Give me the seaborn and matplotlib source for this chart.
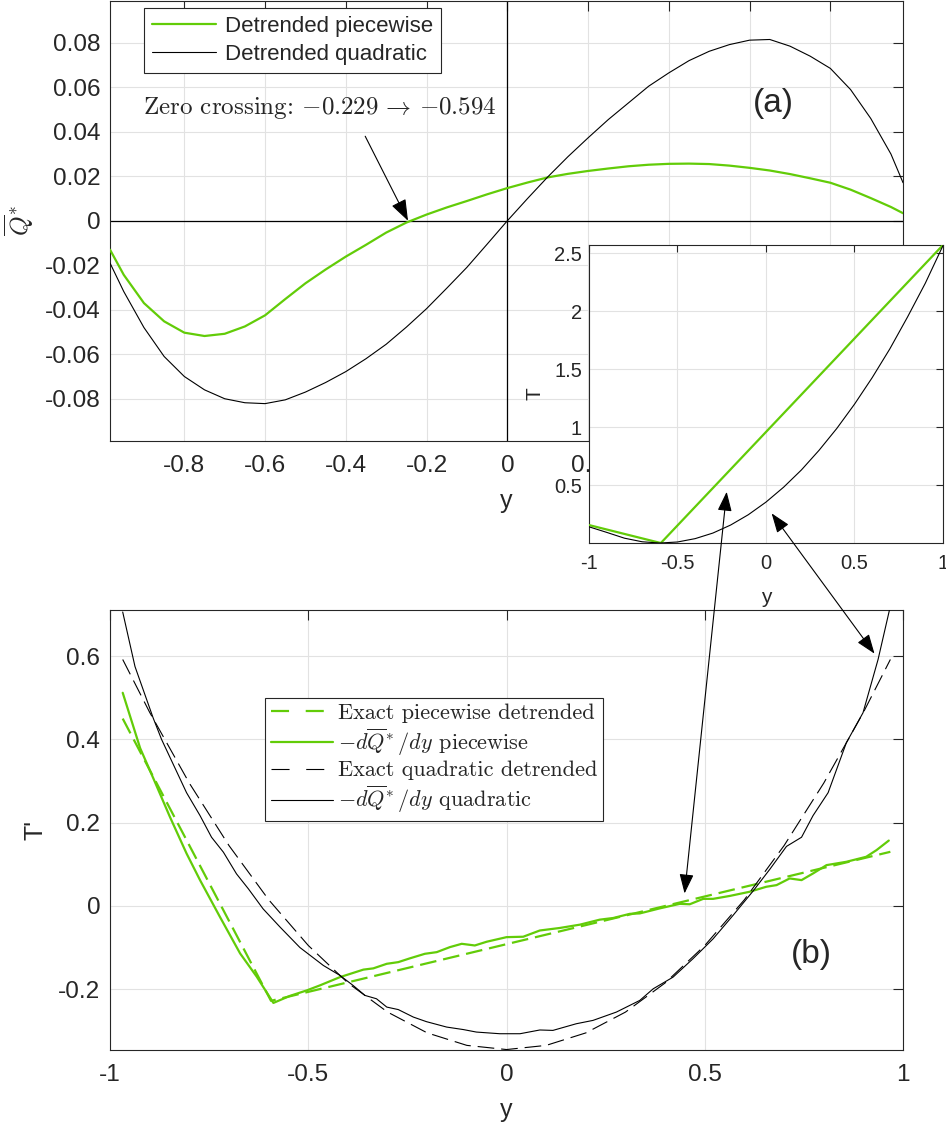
import matplotlib
matplotlib.use("Agg")
import matplotlib.pyplot as plt
import seaborn as sns
from matplotlib.lines import Line2D
from matplotlib.patches import ConnectionPatch, ArrowStyle
from matplotlib.ticker import FuncFormatter

# ---- panel (a): detrended Q* ----
qa_y = [-0.984, -0.95, -0.90, -0.85, -0.80, -0.75, -0.70, -0.65, -0.60, -0.55,
        -0.50, -0.45, -0.40, -0.35, -0.30, -0.25, -0.20, -0.15, -0.10, -0.05,
        0.00, 0.05, 0.10, 0.15, 0.20, 0.25, 0.30, 0.35, 0.40, 0.45,
        0.50, 0.55, 0.60, 0.65, 0.70, 0.75, 0.80, 0.85, 0.90, 0.95, 0.98]
q_piecewise = [-0.0130, -0.0243, -0.0370, -0.0452, -0.0503, -0.0518, -0.0508, -0.0475, -0.0425, -0.0352,
               -0.0281, -0.0219, -0.0161, -0.0108, -0.0053, -0.0008, 0.0028, 0.0060, 0.0089, 0.0119,
               0.0147, 0.0172, 0.0195, 0.0211, 0.0224, 0.0235, 0.0245, 0.0252, 0.0256, 0.0257,
               0.0255, 0.0248, 0.0238, 0.0226, 0.0210, 0.0191, 0.0171, 0.0140, 0.0102, 0.0062, 0.0034]
q_quadratic = [-0.0190, -0.0318, -0.0480, -0.0610, -0.0700, -0.0760, -0.0800, -0.0818, -0.0822, -0.0805,
               -0.0770, -0.0727, -0.0678, -0.0620, -0.0555, -0.0478, -0.0395, -0.0303, -0.0209, -0.0105,
               0.0000, 0.0100, 0.0197, 0.0288, 0.0373, 0.0455, 0.0530, 0.0605, 0.0665, 0.0720,
               0.0762, 0.0792, 0.0812, 0.0815, 0.0785, 0.0740, 0.0685, 0.0590, 0.0460, 0.0300, 0.0171]

# ---- inset: T profiles ----
t_pw_y = [-1.0, -0.594, 1.0]
t_piecewise = [0.155, 0.0, 2.57]
t_quad_y = [-1.0, -0.9, -0.8, -0.7, -0.6, -0.5, -0.4, -0.3, -0.2, -0.1, 0.0,
            0.1, 0.2, 0.3, 0.4, 0.5, 0.6, 0.7, 0.8, 0.9, 1.0]
t_quadratic = [0.140, 0.092, 0.042, 0.011, 0.000, 0.009, 0.038, 0.086, 0.155, 0.244, 0.353,
               0.482, 0.630, 0.800, 0.988, 1.197, 1.426, 1.675, 1.950, 2.240, 2.565]

# ---- panel (b): T' ----
exact_pw_y = [-0.968, -0.594, 0.968]
exact_pw = [0.450, -0.228, 0.130]

exact_quad_y = [-0.968, -0.9, -0.8, -0.7, -0.6, -0.5, -0.4, -0.3, -0.2, -0.1, 0.0,
                0.1, 0.2, 0.3, 0.4, 0.5, 0.6, 0.7, 0.8, 0.9, 0.968]
exact_quad = [0.592, 0.465, 0.295, 0.145, 0.015, -0.095, -0.185, -0.255, -0.305, -0.335, -0.345,
              -0.335, -0.305, -0.255, -0.185, -0.095, 0.015, 0.145, 0.295, 0.465, 0.592]

dq_pw_y = [-0.968, -0.924, -0.891, -0.849, -0.807, -0.773, -0.723, -0.672, -0.630, -0.588,
           -0.546, -0.504, -0.471, -0.420, -0.361, -0.336, -0.302, -0.273, -0.244, -0.206,
           -0.176, -0.143, -0.113, -0.080, -0.050, 0.000, 0.042, 0.084, 0.134, 0.185,
           0.235, 0.269, 0.311, 0.336, 0.386, 0.437, 0.462, 0.496, 0.521, 0.563,
           0.613, 0.655, 0.681, 0.714, 0.744, 0.773, 0.807, 0.857, 0.907, 0.933, 0.964]
dq_pw = [0.512, 0.379, 0.307, 0.214, 0.126, 0.062, -0.026, -0.114, -0.170, -0.233,
         -0.216, -0.203, -0.191, -0.171, -0.153, -0.150, -0.139, -0.135, -0.126, -0.115,
         -0.111, -0.099, -0.091, -0.095, -0.086, -0.075, -0.074, -0.059, -0.053, -0.045,
         -0.033, -0.029, -0.019, -0.018, -0.006, 0.005, 0.004, 0.017, 0.017, 0.024,
         0.034, 0.046, 0.050, 0.066, 0.062, 0.078, 0.098, 0.106, 0.118, 0.134, 0.157]

dq_quad_y = [-0.968, -0.937, -0.891, -0.870, -0.807, -0.773, -0.744, -0.714, -0.681, -0.651,
             -0.614, -0.571, -0.521, -0.462, -0.420, -0.387, -0.357, -0.328, -0.302, -0.273,
             -0.235, -0.202, -0.151, -0.109, -0.076, -0.017, 0.034, 0.084, 0.117, 0.176,
             0.218, 0.277, 0.336, 0.370, 0.420, 0.470, 0.521, 0.571, 0.622, 0.664,
             0.706, 0.744, 0.773, 0.811, 0.857, 0.899, 0.937, 0.966]
dq_quad = [0.706, 0.575, 0.451, 0.400, 0.272, 0.217, 0.165, 0.129, 0.077, 0.041,
           -0.007, -0.051, -0.100, -0.143, -0.167, -0.191, -0.215, -0.223, -0.243, -0.249,
           -0.267, -0.278, -0.291, -0.297, -0.303, -0.307, -0.307, -0.298, -0.299, -0.283,
           -0.275, -0.255, -0.227, -0.199, -0.171, -0.127, -0.079, -0.023, 0.036, 0.088,
           0.143, 0.165, 0.217, 0.272, 0.392, 0.464, 0.592, 0.712]

a_xticks = [-0.8, -0.6, -0.4, -0.2, 0.0, 0.2, 0.4, 0.6, 0.8]
a_yticks = [-0.08, -0.06, -0.04, -0.02, 0.0, 0.02, 0.04, 0.06, 0.08]
b_xticks = [-1, -0.5, 0, 0.5, 1]
b_yticks = [-0.2, 0, 0.2, 0.4, 0.6]
in_yticks = [0.5, 1, 1.5, 2, 2.5]

GREEN = "#62cc08"
EDGE = "#262626"
GRID = "#e2e2e2"

sns.set_style("white")
plt.rcParams["font.family"] = ["Liberation Sans", "DejaVu Sans"]
plt.rcParams["mathtext.fontset"] = "cm"
plt.rcParams["axes.unicode_minus"] = False
plt.rcParams["lines.scale_dashes"] = False

fmt = FuncFormatter(lambda v, _: f"{round(v, 6) + 0:g}")


def style_axes(ax, xticks, yticks, size=17.6, ticklen=7, xpad=10, ypad=7):
    ax.set_xticks(xticks)
    ax.set_yticks(yticks)
    ax.xaxis.set_major_formatter(fmt)
    ax.yaxis.set_major_formatter(fmt)
    ax.tick_params(direction="in", length=ticklen, width=0.8, color=EDGE,
                   top=True, right=True, labelsize=size, labelcolor="#262626")
    ax.tick_params(axis="x", pad=xpad)
    ax.tick_params(axis="y", pad=ypad)
    ax.grid(True, color=GRID, lw=0.8)
    ax.set_axisbelow(True)
    for s in ax.spines.values():
        s.set_color(EDGE)
        s.set_linewidth(0.8)
        s.set_visible(True)


fig = plt.figure(figsize=(9.46, 11.25), dpi=100)
ax_a = fig.add_axes([0.1163, 0.608, 0.8383, 0.3915])
ax_b = fig.add_axes([0.1163, 0.0667, 0.8383, 0.3915])
ax_in = fig.add_axes([0.6226, 0.5173, 0.3742, 0.2649])

# panel (a)
ax_a.axhline(0, color="k", lw=0.9, zorder=1.5)
ax_a.axvline(0, color="k", lw=0.9, zorder=1.5)
sns.lineplot(x=qa_y, y=q_piecewise, ax=ax_a, color=GREEN, lw=1.6, legend=False, zorder=3)
sns.lineplot(x=qa_y, y=q_quadratic, ax=ax_a, color="k", lw=0.8, legend=False, zorder=3)
ax_a.set_xlim(qa_y[0], qa_y[-1])
ax_a.set_ylim(-0.099, 0.099)
style_axes(ax_a, a_xticks, a_yticks)
ax_a.set_xlabel("y", fontsize=18)
ax_a.xaxis.set_label_coords(0.5, -0.11)
ax_a.set_ylabel(r"$\overline{Q}^{\!*}$", fontsize=18)
ax_a.yaxis.set_label_coords(-0.093, 0.5)
ax_a.legend(handles=[Line2D([], [], color=GREEN, lw=1.6), Line2D([], [], color="k", lw=0.8)],
            labels=["Detrended piecewise", "Detrended quadratic"],
            loc="upper left", bbox_to_anchor=(0.043, 0.982), borderaxespad=0,
            fontsize=16, handlelength=2.9, handletextpad=0.4, borderpad=0.35,
            labelspacing=0.3, fancybox=False, framealpha=1, edgecolor=EDGE)
ax_a.get_legend().get_frame().set_linewidth(0.8)
ax_a.text(-0.903, 0.0505, r"Zero crossing: $-0.229 \,\rightarrow\, {-0.594}$",
          family="cmr10", fontsize=18, ha="left", va="center")
ax_a.annotate("", xy=(-0.246, 0.0), xytext=(-0.352, 0.038),
              arrowprops=dict(arrowstyle=ArrowStyle("-|>", head_length=0.6, head_width=0.22),
                              mutation_scale=22, color="k", lw=0.8,
                              shrinkA=0, shrinkB=0))
ax_a.text(0.836, 0.766, "(a)", transform=ax_a.transAxes, fontsize=24,
          ha="center", va="center")

# panel (b)
sns.lineplot(x=exact_pw_y, y=exact_pw, ax=ax_b, color=GREEN, lw=1.6,
             linestyle=(0, (12, 5)), legend=False, zorder=3)
sns.lineplot(x=dq_pw_y, y=dq_pw, ax=ax_b, color=GREEN, lw=1.6, legend=False, zorder=3)
sns.lineplot(x=exact_quad_y, y=exact_quad, ax=ax_b, color="k", lw=0.8,
             linestyle=(0, (12, 5)), legend=False, zorder=3)
sns.lineplot(x=dq_quad_y, y=dq_quad, ax=ax_b, color="k", lw=0.8, legend=False, zorder=3)
ax_b.set_xlim(-1, 1)
ax_b.set_ylim(-0.346, 0.712)
style_axes(ax_b, b_xticks, b_yticks)
ax_b.set_xlabel("y", fontsize=18)
ax_b.xaxis.set_label_coords(0.5, -0.11)
ax_b.set_ylabel("T'", fontsize=18)
ax_b.yaxis.set_label_coords(-0.079, 0.5)
leg_handles = [Line2D([], [], color=GREEN, lw=1.6, linestyle=(0, (13, 12))),
               Line2D([], [], color=GREEN, lw=1.6),
               Line2D([], [], color="k", lw=0.8, linestyle=(0, (13, 12))),
               Line2D([], [], color="k", lw=0.8)]
leg_labels = ["Exact piecewise detrended",
              r"$-d\overline{Q}^{\!*}/dy$ piecewise",
              "Exact quadratic detrended",
              r"$-d\overline{Q}^{\!*}/dy$ quadratic"]
ax_b.legend(handles=leg_handles, labels=leg_labels, loc="upper left",
            bbox_to_anchor=(0.196, 0.80), borderaxespad=0,
            prop={"family": "cmr10", "size": 16}, handlelength=2.8,
            handletextpad=0.2, borderpad=0.25, labelspacing=0.15,
            fancybox=False, framealpha=1, edgecolor=EDGE)
ax_b.get_legend().get_frame().set_linewidth(0.8)
ax_b.text(0.885, 0.216, "(b)", transform=ax_b.transAxes, fontsize=24,
          ha="center", va="center")

# inset
ax_in.set_facecolor("white")
sns.lineplot(x=t_pw_y, y=t_piecewise, ax=ax_in, color=GREEN, lw=1.6, legend=False, zorder=3)
sns.lineplot(x=t_quad_y, y=t_quadratic, ax=ax_in, color="k", lw=0.8, legend=False, zorder=3)
ax_in.set_xlim(-1, 1)
ax_in.set_ylim(0, 2.57)
style_axes(ax_in, b_xticks, in_yticks, size=14.5, ticklen=5, xpad=8, ypad=5)
ax_in.set_xlabel("y", fontsize=15)
ax_in.xaxis.set_label_coords(0.5, -0.15)
ax_in.set_ylabel("T", fontsize=15)
ax_in.yaxis.set_label_coords(-0.125, 0.5)

# double-headed arrows linking inset to panel (b)
for pa, pb in [((-0.222, 0.442), (0.449, 0.030)), ((0.032, 0.256), (0.928, 0.606))]:
    con = ConnectionPatch(xyA=pa, coordsA=ax_in.transData, xyB=pb, coordsB=ax_b.transData,
                          arrowstyle=ArrowStyle("<|-|>", head_length=0.6, head_width=0.22),
                          mutation_scale=20, color="k", lw=0.8, shrinkA=0, shrinkB=0)
    fig.add_artist(con)

fig.savefig("out.png", dpi=100)
